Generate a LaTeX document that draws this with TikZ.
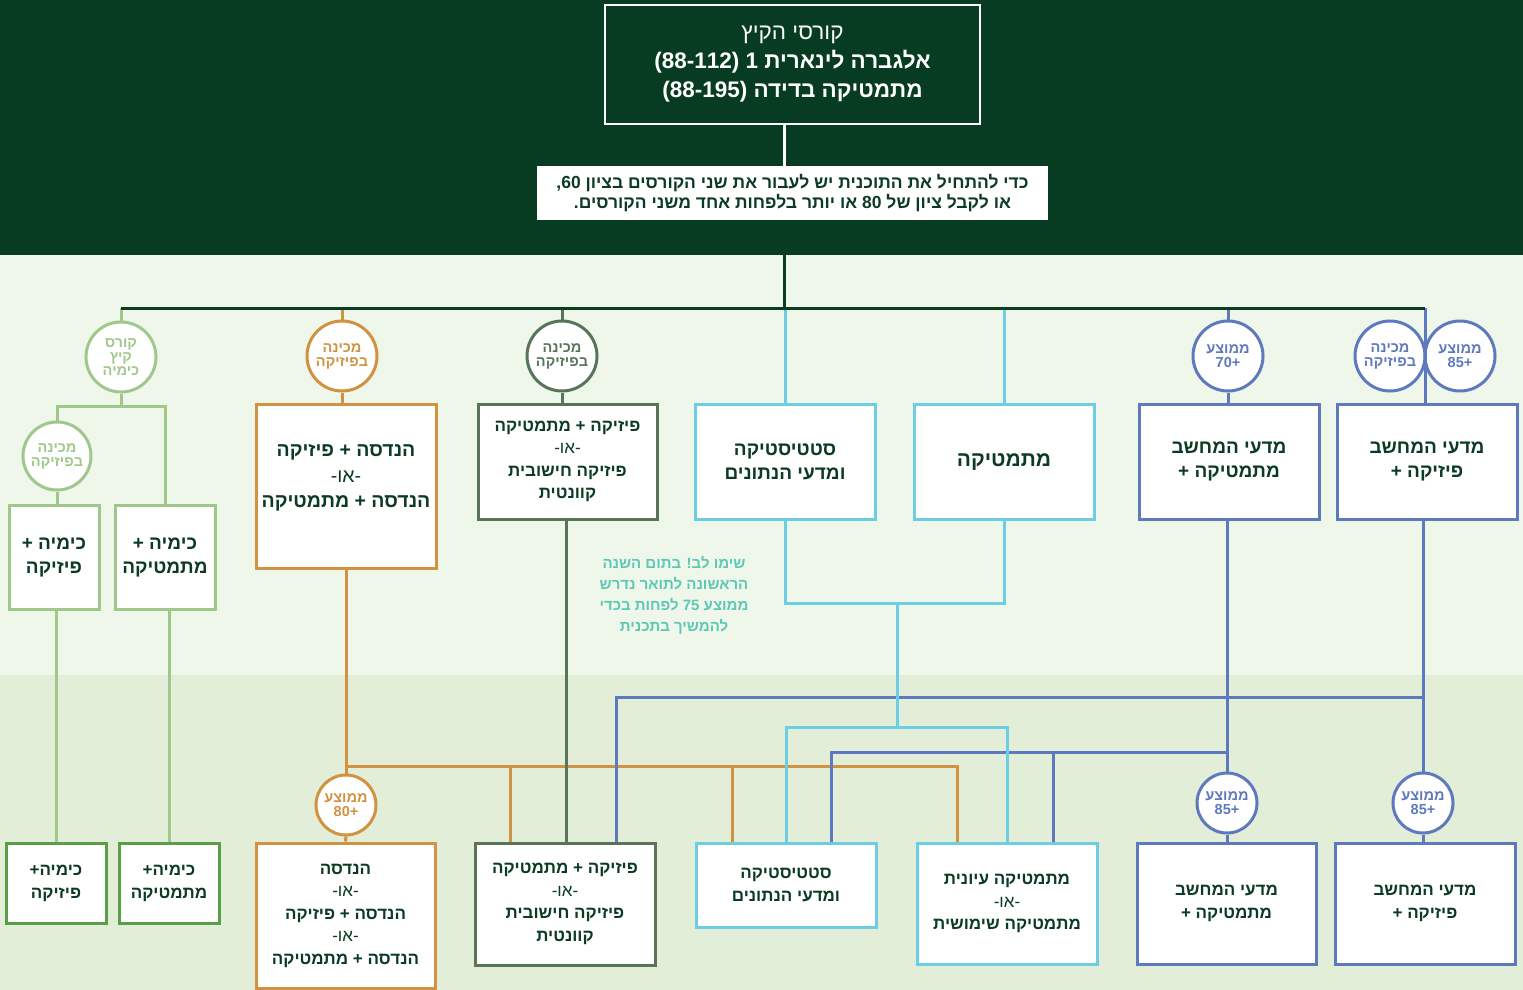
\documentclass[tikz,border=0pt]{standalone}
\usepackage{fontspec}
\setmainfont{Liberation Sans}[Script=Hebrew]
\TeXXeTstate=1
\newcommand\heb[1]{\beginR #1\endR}
\newcommand\orline{\heb{\mdseries -או-}}
\definecolor{topbg}{HTML}{073C22}
\definecolor{midbg}{HTML}{EFF7EB}
\definecolor{botbg}{HTML}{E2EED7}
\definecolor{txtg}{HTML}{0C3B23}
\definecolor{lgreen}{HTML}{A0C88B}
\definecolor{dgreen}{HTML}{5A9F45}
\definecolor{orng}{HTML}{D19242}
\definecolor{ggreen}{HTML}{587559}
\definecolor{cyanl}{HTML}{6CCDE4}
\definecolor{bluel}{HTML}{5F79BF}
\definecolor{tealt}{HTML}{5EC8B6}
\tikzset{
  conn/.style={line width=3pt},
  box/.style={draw, fill=white, line width=3pt, inner sep=0pt, align=center, text=txtg,
     font=\bfseries\fontsize{19}{24}\selectfont},
  bbox/.style={box, font=\bfseries\fontsize{17}{22.5}\selectfont},
  circ/.style={circle, draw, fill=white, line width=3pt, inner sep=0pt, align=center,
     font=\bfseries\fontsize{14.5}{14}\selectfont},
}
\begin{document}
\begin{tikzpicture}[x=1pt,y=-1pt]
\useasboundingbox (0,0) rectangle (1523,990);
\fill[topbg] (0,0) rectangle (1523,255);
\fill[midbg] (0,255) rectangle (1523,675);
\fill[botbg] (0,675) rectangle (1523,990);

% header
\node[draw=white, line width=2.5pt, fill=topbg, minimum width=375pt, minimum height=119pt, align=center, text=white, inner sep=0pt,
  font=\bfseries\fontsize{22.5}{29}\selectfont]
  (head) at (792.5,64.5) {\heb{\mdseries קורסי הקיץ}\\
  \heb{אלגברה לינארית \beginL1\endL{} \beginL(88-112)\endL}\\
  \heb{מתמטיקה בדידה \beginL(88-195)\endL}};
\node[fill=white, minimum width=511pt, minimum height=54pt, align=center, text=txtg, inner sep=0pt,
  font=\bfseries\fontsize{17.5}{20}\selectfont] (note) at (792.5,193)
  {\heb{כדי להתחיל את התוכנית יש לעבור את שני הקורסים בציון 60\kern0pt,}\\
   \heb{או לקבל ציון של 80 או יותר בלפחות אחד משני הקורסים.}};
\draw[white, line width=3pt] (head.south -| 784,0) -- (note.north -| 784,0);
\coordinate (hub) at (784,308);
\coordinate (busL) at (121,308);
\coordinate (busR) at (1425,308);

% ---------- nodes top row
\node[circ, draw=lgreen, text=lgreen, minimum size=70pt] (cchem) at (121,357) {\heb{קורס}\\\heb{קיץ}\\\heb{כימיה}};
\node[circ, draw=lgreen, text=lgreen, minimum size=68pt] (cchprep) at (57,456) {\heb{מכינה}\\\heb{בפיזיקה}};
\node[box, draw=lgreen, minimum width=90pt, minimum height=104pt] (ch1) at (54,557) {\heb{כימיה +}\\\heb{פיזיקה}};
\node[box, draw=lgreen, minimum width=100pt, minimum height=104pt] (ch2) at (165,557) {\heb{כימיה +}\\\heb{מתמטיקה}};

\node[circ, draw=orng, text=orng, minimum size=70pt] (cengprep) at (342,356) {\heb{מכינה}\\\heb{בפיזיקה}};
\node[box, draw=orng, minimum width=180pt, minimum height=164pt, font=\bfseries\fontsize{19.5}{25.5}\selectfont] (eng1) at (346,486)
  {\heb{הנדסה + פיזיקה}\\\orline\\\heb{הנדסה + מתמטיקה}\\[-5.5pt]\mbox{}};

\node[circ, draw=ggreen, text=ggreen, minimum size=70pt] (cphyprep) at (562,356) {\heb{מכינה}\\\heb{בפיזיקה}};
\node[box, draw=ggreen, minimum width=179pt, minimum height=115pt, font=\bfseries\fontsize{17}{22.5}\selectfont] (phy1) at (567.5,461.5)
  {\heb{פיזיקה + מתמטיקה}\\\orline\\\heb{פיזיקה חישובית}\\\heb{קוונטית}};

\node[box, draw=cyanl, minimum width=180pt, minimum height=115pt] (sta1) at (785,461.5) {\heb{סטטיסטיקה}\\\heb{ומדעי הנתונים}};
\node[box, draw=cyanl, minimum width=180pt, minimum height=115pt, font=\bfseries\fontsize{21}{25}\selectfont] (mat1) at (1004,461.5) {\heb{מתמטיקה}};

\node[circ, draw=bluel, text=bluel, minimum size=70pt] (ccs70) at (1228,356) {\heb{ממוצע}\\\heb{+70}};
\node[box, draw=bluel, minimum width=180pt, minimum height=115pt] (csm1) at (1229,461.5) {\heb{מדעי המחשב}\\\heb{מתמטיקה +}};
\node[circ, draw=bluel, text=bluel, minimum size=70pt] (ccsprep) at (1390,356) {\heb{מכינה}\\\heb{בפיזיקה}};
\node[circ, draw=bluel, text=bluel, minimum size=70pt] (ccs85a) at (1460,356) {\heb{ממוצע}\\\heb{+85}};
\node[box, draw=bluel, minimum width=180pt, minimum height=115pt] (csp1) at (1427,461.5) {\heb{מדעי המחשב}\\\heb{פיזיקה +}};

% ---------- nodes bottom row
\node[box, draw=dgreen, minimum width=100pt, minimum height=80pt, font=\bfseries\fontsize{17}{23}\selectfont] (ch3) at (56,883) {\heb{כימיה+}\\\heb{פיזיקה}};
\node[box, draw=dgreen, minimum width=100pt, minimum height=80pt, font=\bfseries\fontsize{17}{23}\selectfont] (ch4) at (169,883) {\heb{כימיה+}\\\heb{מתמטיקה}};
\node[circ, draw=orng, text=orng, minimum size=60pt] (ceng80) at (346,805) {\heb{ממוצע}\\\heb{+80}};
\node[bbox, draw=orng, minimum width=179pt, minimum height=145pt] (eng2) at (345.5,915.5)
  {\heb{הנדסה}\\\orline\\\heb{הנדסה + פיזיקה}\\\orline\\\heb{הנדסה + מתמטיקה}};
\node[bbox, draw=ggreen, minimum width=180pt, minimum height=122pt] (phy2) at (565,904)
  {\heb{פיזיקה + מתמטיקה}\\\orline\\\heb{פיזיקה חישובית}\\\heb{קוונטית}};
\node[bbox, draw=cyanl, minimum width=180pt, minimum height=84pt] (sta2) at (786,885) {\heb{סטטיסטיקה}\\\heb{ומדעי הנתונים}};
\node[bbox, draw=cyanl, minimum width=180pt, minimum height=121pt] (mat2) at (1007,903.5)
  {\heb{מתמטיקה עיונית}\\\orline\\\heb{מתמטיקה שימושית}};
\node[circ, draw=bluel, text=bluel, minimum size=60pt] (ccs85b) at (1227,803) {\heb{ממוצע}\\\heb{+85}};
\node[bbox, draw=bluel, minimum width=179pt, minimum height=121pt] (csm2) at (1226.5,903.5) {\heb{מדעי המחשב}\\\heb{מתמטיקה +}};
\node[circ, draw=bluel, text=bluel, minimum size=60pt] (ccs85c) at (1423,803) {\heb{ממוצע}\\\heb{+85}};
\node[bbox, draw=bluel, minimum width=180pt, minimum height=121pt] (csp2) at (1425,903.5) {\heb{מדעי המחשב}\\\heb{פיזיקה +}};

% note text
\node[text=tealt, align=center, font=\bfseries\fontsize{15}{21}\selectfont] (warn) at (674,595)
  {\heb{שימו לב! בתום השנה}\\\heb{הראשונה לתואר נדרש}\\\heb{ממוצע 75 לפחות בכדי}\\\heb{להמשיך בתכנית}};

% ---------- connectors
\begin{scope}[conn]
% column drops from bus
\draw[lgreen] (cchem.north) -- (cchem.north |- busL);
\draw[orng] (cengprep.north) -- (cengprep.north |- busL);
\draw[ggreen] (cphyprep.north) -- (cphyprep.north |- busL);
\draw[cyanl] (sta1.north) -- (sta1.north |- busL);
\draw[cyanl] (mat1.north) -- (mat1.north |- busL);
\draw[bluel] (ccs70.north) -- (ccs70.north |- busL);
\draw[bluel] (busR) -- (busR |- csp1.north);
\draw[txtg] (note.south -| hub) -- (hub);
\draw[txtg] (busL) -- (busR);

% chemistry
\coordinate (chsplit) at (121,406);
\draw[lgreen] (cchem.south) -- (chsplit);
\draw[lgreen] (cchprep.north) |- (chsplit) -| (ch2.north);
\draw[lgreen] (cchprep.south) -- (cchprep.south |- ch1.north);
\draw[lgreen] (ch1.south -| ch3.north) -- (ch3.north);
\draw[lgreen] (ch2.south -| ch4.north) -- (ch4.north);

% engineering
\draw[orng] (cengprep.south) -- (cengprep.south |- eng1.north);
\draw[orng] (eng1.south) -- (ceng80.north);
\draw[orng] (ceng80.south) -- (eng2.north);
\coordinate (oj) at (346,766);
\coordinate (oP) at ([xshift=-55pt]phy2.north);
\coordinate (oS) at ([xshift=-54pt]sta2.north);
\coordinate (oM) at ([xshift=-50pt]mat2.north);
\draw[orng] (oj) -| (oM);
\draw[orng] (oP) -- (oP |- oj);
\draw[orng] (oS) -- (oS |- oj);

% computer science
\draw[bluel] (ccs70.south) -- (csm1.north -| ccs70.south);
\draw[bluel] (csm1.south -| ccs85b.north) -- (ccs85b.north);
\draw[bluel] (ccs85b.south) -- (csm2.north -| ccs85b.south);
\draw[bluel] (csp1.south -| ccs85c.north) -- (ccs85c.north);
\draw[bluel] (ccs85c.south) -- (csp2.north -| ccs85c.south);
\coordinate (bj1) at (1425,697);
\coordinate (bj2) at (1226,752);
\coordinate (bP) at ([xshift=51pt]phy2.north);
\coordinate (bS) at ([xshift=45pt]sta2.north);
\coordinate (bM) at ([xshift=46pt]mat2.north);
\draw[bluel] (bj1) -| (bP);
\draw[bluel] (bj2) -| (bS);
\draw[bluel] (bM) -- (bM |- bj2);

% statistics / mathematics
\coordinate (cj1) at (897,603);
\coordinate (cj2) at (897,727);
\draw[cyanl] (sta1.south) |- (cj1) -| (mat1.south);
\draw[cyanl] (cj1) -- (cj2);
\draw[cyanl] (sta2.north) |- (cj2) -| (mat2.north);

% physics
\draw[ggreen] (cphyprep.south) -- (cphyprep.south |- phy1.north);
\draw[ggreen] (phy1.south -| 566,0) -- (phy2.north -| 566,0);
\end{scope}
\end{tikzpicture}
\end{document}
